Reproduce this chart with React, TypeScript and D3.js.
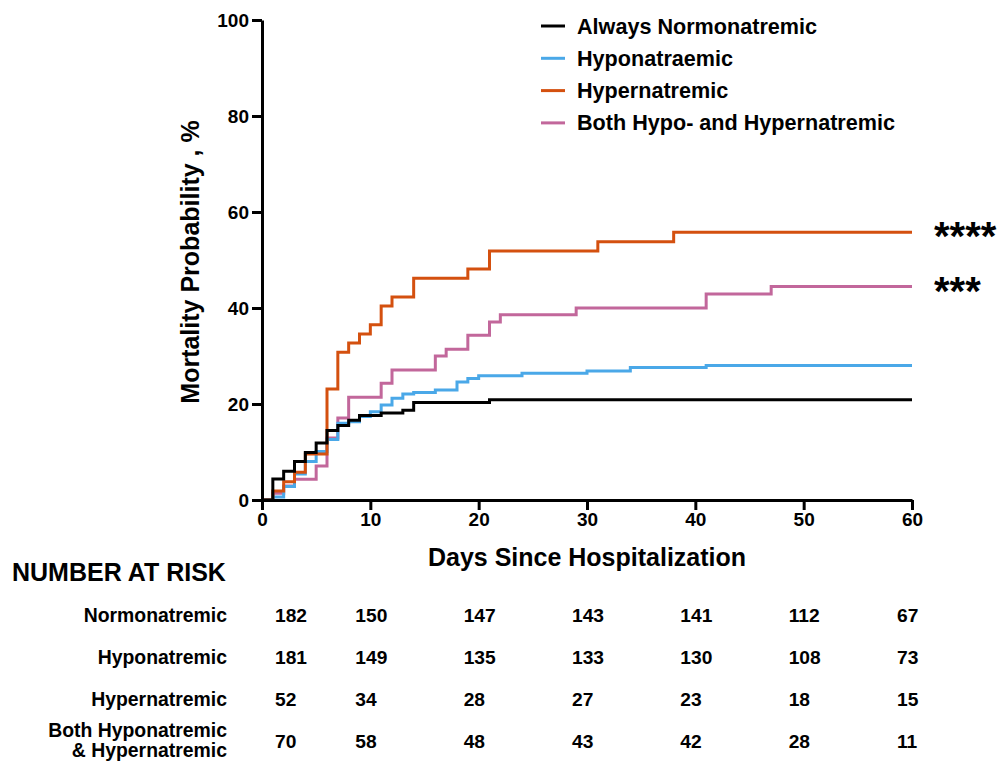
import * as d3 from 'd3';
import { useRef, useEffect } from 'react';

// step times (days) and cumulative mortality (%)
const normoDays = [1, 2, 3, 4, 5, 6, 7, 8, 9, 11, 13, 14, 21];
const normoVals = [4.4, 6.0, 8.0, 9.9, 11.9, 14.5, 15.5, 16.6, 17.6, 18.1, 18.7, 20.3, 20.9];

const hypoDays = [1, 2, 3, 4, 5, 6, 7, 8, 9, 10, 11, 12, 13, 14, 16, 18, 19, 20, 24, 30, 34, 41];
const hypoVals = [0.6, 2.8, 5.4, 8.0, 10.1, 12.6, 16.0, 16.3, 17.4, 18.4, 19.8, 21.2, 22.1, 22.4, 22.9, 24.6, 25.3, 25.9, 26.4, 26.9, 27.6, 28.0];

const hyperDays = [1, 2, 3, 4, 6, 7, 8, 9, 10, 11, 12, 14, 19, 21, 31, 38];
const hyperVals = [1.9, 3.8, 5.8, 9.6, 23.1, 30.8, 32.7, 34.6, 36.5, 40.4, 42.3, 46.2, 48.1, 51.9, 53.8, 55.8];

const bothDays = [1, 2, 3, 5, 6, 7, 8, 11, 12, 16, 17, 19, 21, 22, 29, 41, 47];
const bothVals = [1.4, 2.9, 4.3, 7.1, 12.9, 17.1, 21.4, 24.3, 27.1, 30.0, 31.4, 34.3, 37.1, 38.6, 40.0, 42.9, 44.5];

const legendLabels = ['Always Normonatremic', 'Hyponatraemic', 'Hypernatremic', 'Both Hypo- and Hypernatremic'];
const colors = ['#000000', '#4aa8e8', '#d4500f', '#c2679b'];

const riskDays = [0, 10, 20, 30, 40, 50, 60];
const riskLabels = [['Normonatremic'], ['Hyponatremic'], ['Hypernatremic'], ['Both Hyponatremic', '& Hypernatremic']];
const riskNormo = [182, 150, 147, 143, 141, 112, 67];
const riskHypo = [181, 149, 135, 133, 130, 108, 73];
const riskHyper = [52, 34, 28, 27, 23, 18, 15];
const riskBoth = [70, 58, 48, 43, 42, 28, 11];

const FONT = "'Liberation Sans', Arial, Helvetica, sans-serif";

function App() {
    const gx = useRef(null);
    const gy = useRef(null);

    const x = d3.scaleLinear([0, 60], [262, 912]);
    const y = d3.scaleLinear([0, 100], [500, 20]);

    const series = [
        { days: normoDays, vals: normoVals },
        { days: hypoDays, vals: hypoVals },
        { days: hyperDays, vals: hyperVals },
        { days: bothDays, vals: bothVals },
    ];
    const risk = [riskNormo, riskHypo, riskHyper, riskBoth];

    const line = d3.line().x((d) => x(d[0])).y((d) => y(d[1])).curve(d3.curveStepAfter);
    const pathFor = (s) => {
        const pts = [[0, 0], ...s.days.map((d, i) => [d, s.vals[i]])];
        pts.push([60, s.vals[s.vals.length - 1]]);
        return line(pts);
    };

    useEffect(() => {
        const style = (g) => {
            g.select('.domain').attr('stroke-width', 3);
            g.selectAll('.tick line').attr('stroke-width', 3);
            g.selectAll('.tick text')
                .attr('font-size', 19)
                .attr('font-weight', 'bold')
                .attr('font-family', FONT)
                .attr('fill', '#000');
        };
        d3.select(gx.current)
            .call(d3.axisBottom(x).tickValues([0, 10, 20, 30, 40, 50, 60]).tickSize(10).tickSizeOuter(0).tickPadding(3))
            .call(style);
        d3.select(gy.current)
            .call(d3.axisLeft(y).tickValues([0, 20, 40, 60, 80, 100]).tickSize(10).tickSizeOuter(0).tickPadding(3))
            .call(style);
    }, []);

    // pink under blue under orange under black
    const drawOrder = [3, 1, 2, 0];
    const colX = (d) => Math.max(x(d) - 15, x(0) + 13);
    const rowY = [615, 657, 699, 741];

    return (
        <svg width={1000} height={763} style={{ position: 'absolute', left: 0, top: 0, background: '#fff' }} fontFamily={FONT} fontWeight="bold">
            {drawOrder.map((i) => (
                <path key={i} d={pathFor(series[i])} fill="none" stroke={colors[i]} strokeWidth={3} />
            ))}
            <g ref={gx} transform={`translate(0,${y(0)})`} />
            <g ref={gy} transform={`translate(${x(0)},0)`} />

            <text x={587} y={557} textAnchor="middle" dominantBaseline="central" fontSize={25}>Days Since Hospitalization</text>
            <text transform={`translate(190,${y(50) + 2}) rotate(-90)`} textAnchor="middle" dominantBaseline="central" fontSize={25}>Mortality Probability , %</text>

            {legendLabels.map((lab, i) => (
                <g key={lab} transform={`translate(0,${26 + i * 32.3})`}>
                    <line x1={541} x2={565} y1={0} y2={0} stroke={colors[i]} strokeWidth={3} />
                    <text x={577} y={0} dominantBaseline="central" fontSize={21.6}>{lab}</text>
                </g>
            ))}

            <text x={934} y={y(hyperVals[hyperVals.length - 1]) + 18} fontSize={40}>****</text>
            <text x={934} y={y(bothVals[bothVals.length - 1]) + 19} fontSize={40}>***</text>

            <text x={12} y={572} dominantBaseline="central" fontSize={25}>NUMBER AT RISK</text>
            {riskLabels.map((lab, r) => (
                <text key={r} x={227} y={lab.length > 1 ? rowY[r] - 11 : rowY[r]} textAnchor="end" dominantBaseline="central" fontSize={19.4}>
                    {lab.map((t, k) => (
                        <tspan key={k} x={227} dy={k === 0 ? 0 : 20}>{t}</tspan>
                    ))}
                </text>
            ))}
            {risk.map((vals, r) =>
                vals.map((v, c) => (
                    <text key={`${r}-${c}`} x={colX(riskDays[c])} y={rowY[r]} dominantBaseline="central" fontSize={19.2}>{v}</text>
                ))
            )}
        </svg>
    );
}

export default App;
